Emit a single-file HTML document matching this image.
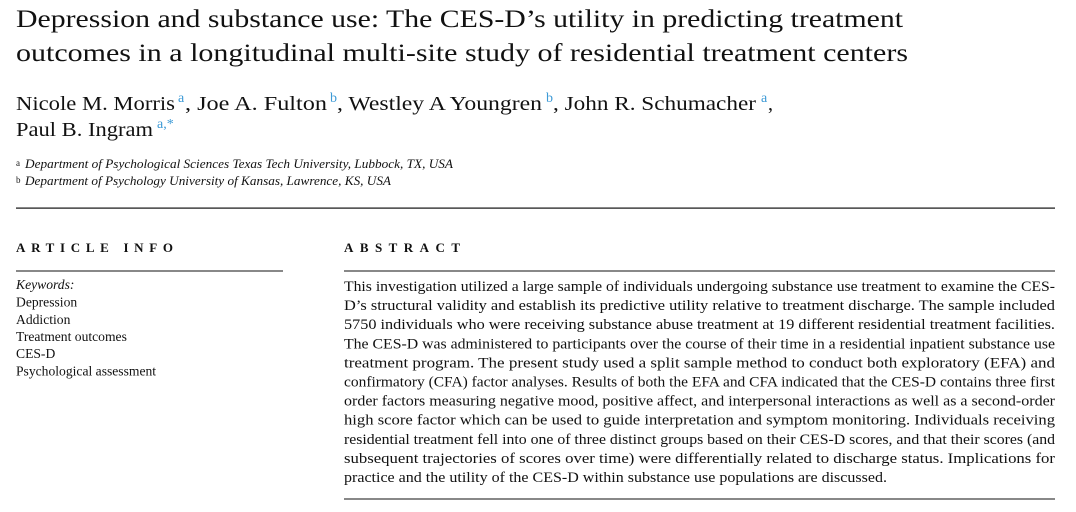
<!DOCTYPE html>
<html><head><meta charset="utf-8"><style>
html,body{margin:0;padding:0;background:#fff;}
svg{display:block;}
text{font-family:"Liberation Serif",serif;fill:#111;}
.s{fill:#3d9ad6;font-size:14px;}
</style></head><body>
<svg width="1076" height="512" viewBox="0 0 1076 512">
<text x="16" y="27" font-size="25" textLength="887" lengthAdjust="spacingAndGlyphs">Depression and substance use: The CES-D’s utility in predicting treatment</text>
<text x="16" y="61" font-size="25" textLength="892" lengthAdjust="spacingAndGlyphs">outcomes in a longitudinal multi-site study of residential treatment centers</text>

<text x="16" y="110" font-size="20" textLength="159" lengthAdjust="spacingAndGlyphs">Nicole M. Morris</text>
<text class="s" x="178" y="102">a</text>
<text x="185" y="110" font-size="20" textLength="142" lengthAdjust="spacingAndGlyphs">, Joe A. Fulton</text>
<text class="s" x="330" y="102">b</text>
<text x="337" y="110" font-size="20" textLength="205" lengthAdjust="spacingAndGlyphs">, Westley A Youngren</text>
<text class="s" x="546" y="102">b</text>
<text x="553" y="110" font-size="20" textLength="203" lengthAdjust="spacingAndGlyphs">, John R. Schumacher</text>
<text class="s" x="761" y="102">a</text>
<text x="768" y="110" font-size="20">,</text>
<text x="16" y="136" font-size="20" textLength="137" lengthAdjust="spacingAndGlyphs">Paul B. Ingram</text>
<text class="s" x="157" y="128">a,*</text>

<text x="16" y="166" font-size="9">a</text>
<text x="25" y="168" font-size="12.5" font-style="italic" textLength="428" lengthAdjust="spacingAndGlyphs">Department of Psychological Sciences Texas Tech University, Lubbock, TX, USA</text>
<text x="16" y="183" font-size="9">b</text>
<text x="25" y="185" font-size="12.5" font-style="italic" textLength="366" lengthAdjust="spacingAndGlyphs">Department of Psychology University of Kansas, Lawrence, KS, USA</text>

<rect x="16" y="207.5" width="1039" height="1.2" fill="#111"/>

<text x="16" y="252" font-size="13" font-weight="bold" textLength="157" lengthAdjust="spacing">ARTICLE INFO</text>
<text x="344" y="252" font-size="13" font-weight="bold" textLength="116" lengthAdjust="spacing">ABSTRACT</text>
<rect x="16" y="270.5" width="267" height="1" fill="#111"/>
<rect x="344" y="270.5" width="711" height="1" fill="#111"/>

<g font-size="13.6">
<text x="16" y="289" font-style="italic">Keywords:</text>
<text x="16" y="306.5">Depression</text>
<text x="16" y="323.8">Addiction</text>
<text x="16" y="341">Treatment outcomes</text>
<text x="16" y="358.2">CES-D</text>
<text x="16" y="375.4">Psychological assessment</text>
</g>

<g font-size="14.6">
<text x="344" y="291" textLength="711" lengthAdjust="spacingAndGlyphs">This investigation utilized a large sample of individuals undergoing substance use treatment to examine the CES-</text>
<text x="344" y="310.1" textLength="711" lengthAdjust="spacingAndGlyphs">D’s structural validity and establish its predictive utility relative to treatment discharge. The sample included</text>
<text x="344" y="329.2" textLength="711" lengthAdjust="spacingAndGlyphs">5750 individuals who were receiving substance abuse treatment at 19 different residential treatment facilities.</text>
<text x="344" y="348.3" textLength="711" lengthAdjust="spacingAndGlyphs">The CES-D was administered to participants over the course of their time in a residential inpatient substance use</text>
<text x="344" y="367.4" textLength="711" lengthAdjust="spacingAndGlyphs">treatment program. The present study used a split sample method to conduct both exploratory (EFA) and</text>
<text x="344" y="386.5" textLength="711" lengthAdjust="spacingAndGlyphs">confirmatory (CFA) factor analyses. Results of both the EFA and CFA indicated that the CES-D contains three first</text>
<text x="344" y="405.6" textLength="711" lengthAdjust="spacingAndGlyphs">order factors measuring negative mood, positive affect, and interpersonal interactions as well as a second-order</text>
<text x="344" y="424.7" textLength="711" lengthAdjust="spacingAndGlyphs">high score factor which can be used to guide interpretation and symptom monitoring. Individuals receiving</text>
<text x="344" y="443.8" textLength="711" lengthAdjust="spacingAndGlyphs">residential treatment fell into one of three distinct groups based on their CES-D scores, and that their scores (and</text>
<text x="344" y="462.9" textLength="711" lengthAdjust="spacingAndGlyphs">subsequent trajectories of scores over time) were differentially related to discharge status. Implications for</text>
<text x="344" y="482" textLength="543" lengthAdjust="spacingAndGlyphs">practice and the utility of the CES-D within substance use populations are discussed.</text>
</g>
<rect x="344" y="498.5" width="711" height="1" fill="#111"/>
</svg>
</body></html>
